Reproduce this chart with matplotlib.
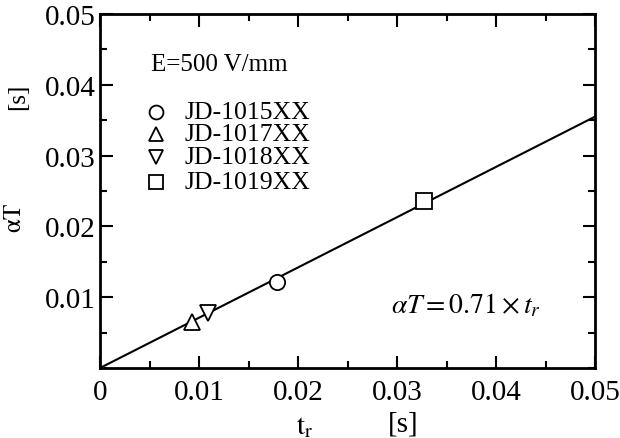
import numpy as np
import matplotlib
matplotlib.use('Agg')
import matplotlib.pyplot as plt
from matplotlib.ticker import MultipleLocator

plt.rcParams['font.family'] = ['Liberation Serif', 'DejaVu Serif']
plt.rcParams['mathtext.fontset'] = 'stix'

# fitted line  aT = 0.71 * tr
fit_x = [0.0, 0.05]
fit_y = [0.0, 0.0355]

# measured points
names  = ['JD-1015XX', 'JD-1017XX', 'JD-1018XX', 'JD-1019XX']
tr     = [0.0179, 0.0093, 0.0109, 0.0327]
aT     = [0.0122, 0.0065, 0.0078, 0.0236]
marks  = ['o', '^', 'v', 's']

xticks = [0, 0.01, 0.02, 0.03, 0.04, 0.05]
xtlab  = ['0', '0.01', '0.02', '0.03', '0.04', '0.05']
yticks = [0.01, 0.02, 0.03, 0.04, 0.05]
ytlab  = ['0.01', '0.02', '0.03', '0.04', '0.05']


def main():
    fig = plt.figure(figsize=(6.2, 4.39), dpi=100)
    ax = fig.add_axes([100/620, 70/439, 495/620, 354/439])

    ax.plot(fit_x, fit_y, '-k', lw=1.5, zorder=2)
    for k in range(len(names)):
        ax.plot(tr[k], aT[k], marks[k], ms=11, mfc='white', mec='k',
                mew=1.3, zorder=3)

    ax.set_xlim(0, 0.05)
    ax.set_ylim(0, 0.05)
    ax.set_xticks(xticks)
    ax.set_xticklabels(xtlab)
    ax.set_yticks(yticks)
    ax.set_yticklabels(ytlab)
    ax.xaxis.set_minor_locator(MultipleLocator(0.005))
    ax.yaxis.set_minor_locator(MultipleLocator(0.005))
    ax.tick_params(which='both', direction='in', top=True, right=True,
                   width=1.5, labelsize=21)
    ax.tick_params(which='major', length=9)
    ax.tick_params(which='minor', length=5)
    ax.tick_params(axis='x', pad=8)
    ax.tick_params(axis='y', pad=3)
    for s in ax.spines.values():
        s.set_linewidth(2)

    # legend drawn by hand
    ax.text(0.0052, 0.0429, 'E=500 V/mm', fontsize=18, va='center')
    ly = [0.0362, 0.0331, 0.0298, 0.0263]
    for k in range(len(names)):
        ax.plot(0.0057, ly[k], marks[k], ms=10, mfc='white', mec='k',
                mew=1.3, clip_on=False)
        ax.text(0.0085, ly[k], names[k], fontsize=18.5, va='center')

    ax.text(0.0294, 0.0090, r'$\alpha T = 0.71 \times t_r$', fontsize=20,
            va='center')

    fig.text(15/620, 1 - 218/439, r'$\mathrm{\alpha T}$', fontsize=18,
             rotation=90, ha='center', va='center')
    fig.text(18/620, 1 - 97/439, '[s]', fontsize=18, rotation=90,
             ha='center', va='center')
    fig.text(305/620, 1 - 427/439, r'$\mathrm{t_r}$', fontsize=21,
             ha='center', va='center')
    fig.text(403/620, 1 - 425/439, '[s]', fontsize=21,
             ha='center', va='center')

    fig.savefig('out.png', dpi=100)


if __name__ == "__main__":
    main()
